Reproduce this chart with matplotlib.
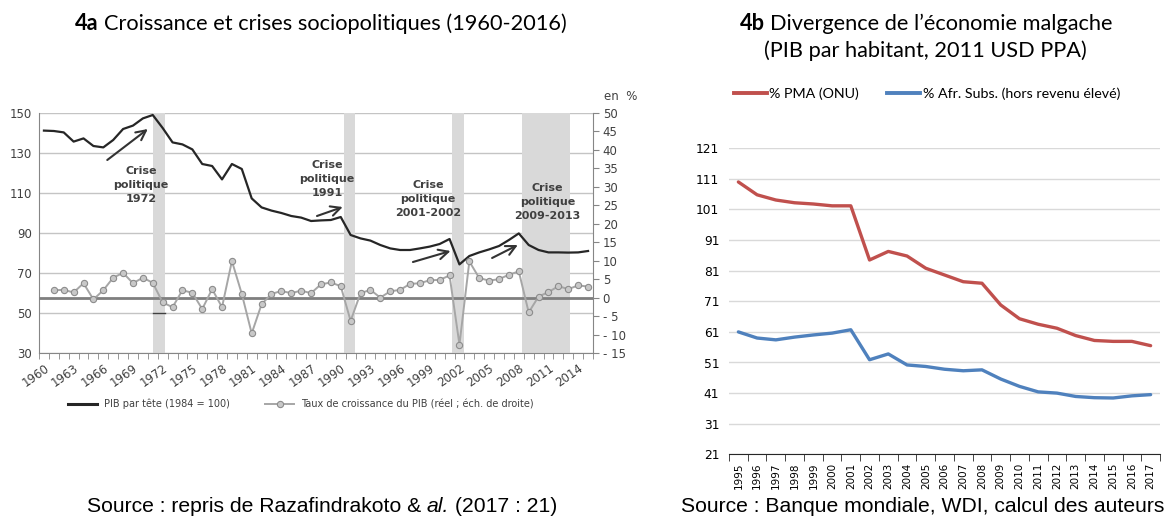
import numpy as np
import matplotlib
matplotlib.use("Agg")
import matplotlib.pyplot as plt
from matplotlib.lines import Line2D

# --- 4a : PIB par tête et croissance, Madagascar 1960-2015 ---
annees_a = np.arange(1960, 2016)
pib_tete = [141.2, 141.0, 140.3, 135.7, 137.3, 133.5, 132.8, 136.5, 142.0, 143.7,
            147.3, 149.0, 142.5, 135.3, 134.3, 131.8, 124.5, 123.5, 116.8, 124.5,
            122.0, 107.3, 102.8, 101.2, 100.0, 98.5, 97.7, 96.0, 96.3, 96.5,
            98.0, 89.0, 87.3, 86.2, 84.0, 82.3, 81.5, 81.5, 82.3, 83.2,
            84.5, 87.0, 74.3, 78.5, 80.3, 81.8, 83.5, 86.5, 89.8, 84.0,
            81.5, 80.3, 80.3, 80.2, 80.3, 81.0]
annees_croissance = np.arange(1961, 2016)
croissance = [2.0, 2.1, 1.4, 3.9, -0.5, 2.0, 5.4, 6.7, 3.9, 5.4,
              4.0, -1.3, -2.6, 2.0, 1.3, -3.1, 2.3, -2.6, 9.9, 1.0,
              -9.7, -1.8, 1.0, 1.8, 1.2, 1.9, 1.2, 3.6, 4.1, 3.1,
              -6.3, 1.2, 2.1, 0.0, 1.7, 2.1, 3.7, 3.9, 4.7, 4.8,
              6.0, -12.7, 9.8, 5.3, 4.6, 5.0, 6.2, 7.1, -4.0, 0.3,
              1.5, 3.1, 2.3, 3.3, 3.0]

# périodes de crise (bandes grises) et leurs étiquettes
crise_debut = [1971.05, 1990.35, 2001.25, 2008.35]
crise_fin = [1972.25, 1991.4, 2002.45, 2013.15]
crise_labels = ["Crise\npolitique\n1972", "Crise\npolitique\n1991",
                "Crise\npolitique\n2001-2002", "Crise\npolitique\n2009-2013"]
crise_label_pos = [(1969.8, 114), (1988.6, 117), (1998.8, 107), (2010.9, 105.5)]
fleches = [((1966.4, 126.5), (1970.5, 142)), ((1987.6, 98.5), (1990.2, 103)),
           ((1997.3, 75.5), (2001.1, 81)), ((2005.3, 77.5), (2007.9, 84))]

gauche_ticks = [30, 50, 70, 90, 110, 130, 150]
droite_ticks = [-15, -10, -5, 0, 5, 10, 15, 20, 25, 30, 35, 40, 45, 50]
droite_labels = ["- 15", "- 10", "- 5", "0", "5", "10", "15", "20", "25", "30",
                 "35", "40", "45", "50"]
annees_labels_a = np.arange(1960, 2016, 3)

# --- 4b : divergence de l'économie malgache ---
annees_b = np.arange(1995, 2018)
pct_pma = [110.0, 105.8, 104.1, 103.2, 102.8, 102.2, 102.2, 84.5, 87.3, 85.8,
           81.8, 79.6, 77.4, 76.9, 69.8, 65.3, 63.5, 62.2, 59.8, 58.2,
           57.9, 57.9, 56.5]
pct_afr = [61.0, 59.0, 58.4, 59.3, 60.0, 60.6, 61.7, 51.9, 53.8, 50.2,
           49.7, 48.8, 48.3, 48.6, 45.6, 43.2, 41.4, 41.0, 39.9, 39.5,
           39.4, 40.1, 40.5]
b_ticks = [21, 31, 41, 51, 61, 71, 81, 91, 101, 111, 121]

W, H = 1169, 517
fig = plt.figure(figsize=(W / 100, H / 100), dpi=100)
gris_txt = "#404040"
gris_axe = "#868686"

# ---------------- panneau 4a ----------------
ax = fig.add_axes([39 / W, 1 - 353 / H, 554 / W, 240 / H])
ax.set_xlim(1959.5, 2015.5)
ax.set_ylim(30, 150)
ax.set_axisbelow(True)
ax.set_yticks(gauche_ticks)
ax.grid(axis="y", color="#C4C4C4", lw=1)
for d, f in zip(crise_debut, crise_fin):
    ax.axvspan(d, f, color="#D9D9D9", lw=0, zorder=0.8)
ax.plot([crise_debut[0], crise_fin[0]], [50, 50], color="#404040", lw=1, zorder=1)
ax.plot(annees_a, pib_tete, color="#262626", lw=1.6, zorder=3)

ax2 = ax.twinx()
ax2.set_ylim(-15, 50)
ax2.axhline(0, color="#7F7F7F", lw=2, zorder=1)
ax2.plot(annees_croissance, croissance, color="#A6A6A6", lw=1.4, marker="o",
         ms=4.5, mfc="#C8C8C8", mec="#8C8C8C", mew=0.8, zorder=2)

for s in ["top", "right"]:
    ax.spines[s].set_visible(False)
for s in ["left", "bottom"]:
    ax.spines[s].set_color(gris_axe)
for s in ["top", "left", "bottom"]:
    ax2.spines[s].set_visible(False)
ax2.spines["right"].set_color(gris_axe)

ax.tick_params(axis="y", length=0, pad=5, labelsize=8.5, labelcolor=gris_txt)
ax2.set_yticks(droite_ticks)
ax2.set_yticklabels(droite_labels)
ax2.tick_params(axis="y", length=4, color=gris_axe, pad=3, labelsize=8.5,
                labelcolor=gris_txt)

ax.set_xticks(annees_labels_a)
ax.set_xticklabels([str(a) for a in annees_labels_a], rotation=35, ha="right",
                   rotation_mode="anchor")
ax.set_xticks(np.arange(1959.5, 2016, 1.0), minor=True)
ax.tick_params(axis="x", which="major", length=0, pad=6, labelsize=8.5,
               labelcolor=gris_txt)
ax.tick_params(axis="x", which="minor", length=4, color=gris_axe)

for lab, (x, y) in zip(crise_labels, crise_label_pos):
    ax.text(x, y, lab, ha="center", va="center", fontsize=8, fontweight="bold",
            color="#404040", linespacing=1.45, zorder=4)
for tail, head in fleches:
    ax.annotate("", xy=head, xytext=tail, zorder=4,
                arrowprops=dict(arrowstyle="->,head_length=0.7,head_width=0.35",
                                lw=1.5, color="#333333", shrinkA=0, shrinkB=0))

fig.text(604 / W, 1 - 97 / H, "en  %", fontsize=8.5, color=gris_txt,
         ha="left", va="center")

leg_a = [Line2D([], [], color="#262626", lw=2.2),
         Line2D([], [], color="#A6A6A6", lw=1.4, marker="o", ms=4.5,
                mfc="#C8C8C8", mec="#8C8C8C", mew=0.8)]
fig.legend(leg_a, ["PIB par tête (1984 = 100)",
                   "Taux de croissance du PIB (réel ; éch. de droite)"],
           loc="center", bbox_to_anchor=(301 / W, 1 - 404 / H), ncol=2,
           frameon=False, fontsize=7, handlelength=3.0, handletextpad=0.7,
           columnspacing=3.6, labelcolor=gris_txt)

# ---------------- panneau 4b ----------------
axr = fig.add_axes([729 / W, 1 - 454.3 / H, 431 / W, 306 / H])
axr.set_xlim(1994.5, 2017.5)
axr.set_ylim(21, 121)
axr.set_axisbelow(True)
axr.set_yticks(b_ticks)
axr.grid(axis="y", color="#D9D9D9", lw=1)
axr.plot(annees_b, pct_pma, color="#C0504D", lw=2.4, solid_capstyle="round")
axr.plot(annees_b, pct_afr, color="#4F81BD", lw=2.4, solid_capstyle="round")
for s in ["top", "left", "right"]:
    axr.spines[s].set_visible(False)
axr.spines["bottom"].set_color("#262626")
axr.tick_params(axis="y", length=0, pad=7, labelsize=8.8)
for t in axr.get_yticklabels():
    t.set_fontfamily("Liberation Sans Narrow")
axr.set_xticks(annees_b)
axr.set_xticklabels([str(a) for a in annees_b], rotation=90,
                    fontfamily="Liberation Sans Narrow")
axr.set_xticks(np.arange(1994.5, 2018, 1.0), minor=True)
axr.tick_params(axis="x", which="major", length=0, pad=6, labelsize=7.5)
axr.tick_params(axis="x", which="minor", length=5, color="#262626")

leg_b = [Line2D([], [], color="#C0504D", lw=2.8),
         Line2D([], [], color="#4F81BD", lw=2.8)]
fig.legend(leg_b, ["% PMA (ONU)", "% Afr. Subs. (hors revenu élevé)"],
           loc="center", bbox_to_anchor=(927 / W, 1 - 94 / H), ncol=2,
           frameon=False, handlelength=2.3, handletextpad=0.15,
           columnspacing=2.0, prop={"family": "Lato", "size": 10.3})


# ---------------- titres et sources ----------------
def texte_mixte(xc, y, morceaux, **kw):
    """Place des morceaux de texte de styles différents, centrés sur xc (pixels)."""
    renderer = fig.canvas.get_renderer()
    objs = [fig.text(0, 1 - y / H, s, va="center", ha="left", **kw, **st)
            for s, st in morceaux]
    sp = fig.text(0, 0, "a a", **kw)
    sp2 = fig.text(0, 0, "aa", **kw)
    espace = (sp.get_window_extent(renderer).width
              - sp2.get_window_extent(renderer).width)
    sp.remove()
    sp2.remove()
    largeurs = [o.get_window_extent(renderer).width for o in objs]
    total = sum(largeurs) + espace * (len(objs) - 1)
    x = xc - total / 2
    for o, w in zip(objs, largeurs):
        o.set_x(x / W)
        x += w + espace


titre = dict(family="Lato", size=15.7, color="black")
texte_mixte(321, 24, [("4a", {"fontweight": "bold"}),
                      ("Croissance et crises sociopolitiques (1960-2016)", {})], **titre)
texte_mixte(926, 24, [("4b", {"fontweight": "bold"}),
                      ("Divergence de l’économie malgache", {})], **titre)
fig.text(925 / W, 1 - 51 / H, "(PIB par habitant, 2011 USD PPA)", ha="center",
         va="center", **titre)

source = dict(family="Liberation Sans", size=15.2, color="black")
texte_mixte(322, 506, [("Source : repris de Razafindrakoto &", {}),
                       ("al.", {"style": "italic"}),
                       ("(2017 : 21)", {})], **source)
fig.text(923 / W, 1 - 506 / H, "Source : Banque mondiale, WDI, calcul des auteurs",
         ha="center", va="center", **source)

fig.savefig("out.png", dpi=100)
